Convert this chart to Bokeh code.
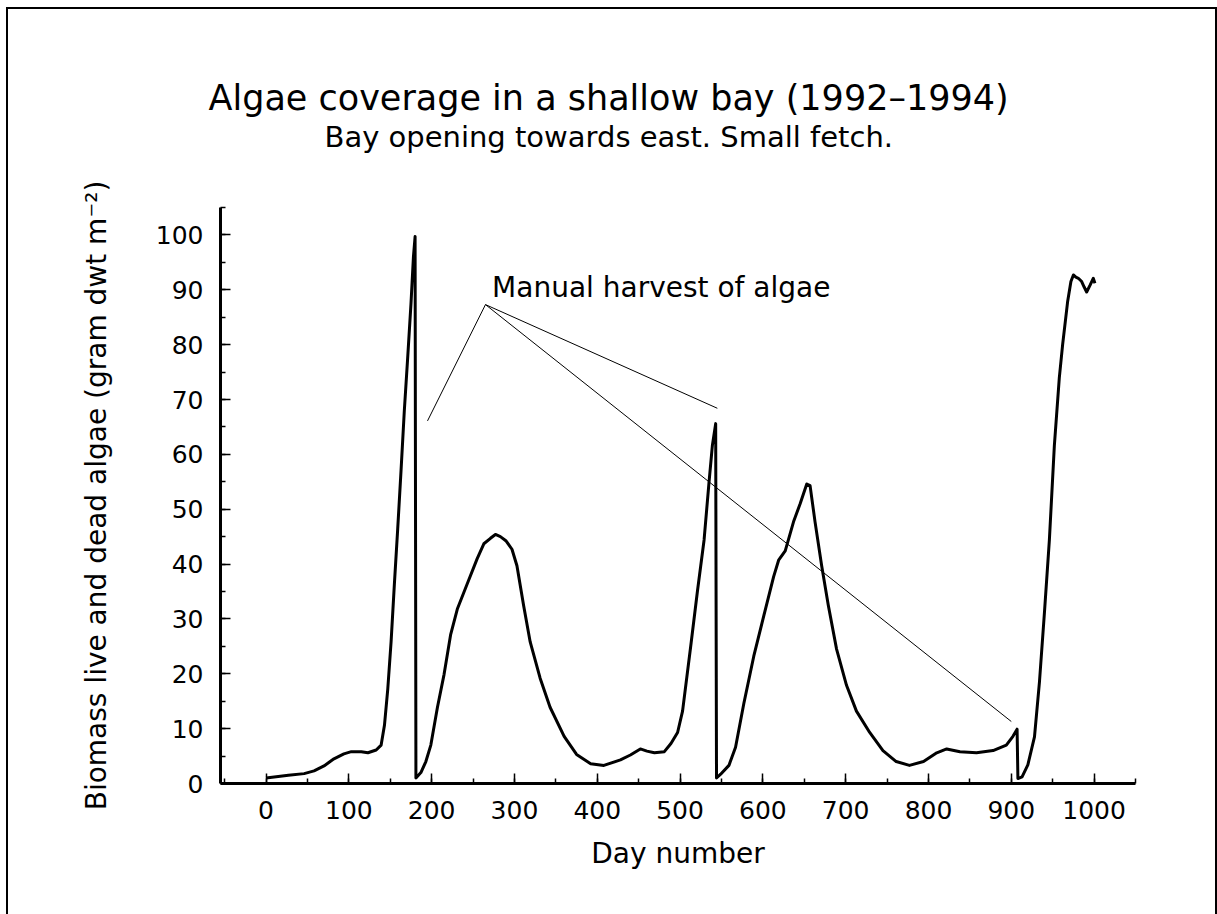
from bokeh.plotting import figure
from bokeh.models import Title, Label, SingleIntervalTicker
from bokeh.embed import file_html
from bokeh.resources import INLINE

# ---- data ----
day = [0, 27, 46, 58, 70, 82, 94, 103, 115, 123, 133, 139, 143, 147, 151, 155, 159,
       163, 167, 171, 175, 178, 180, 181, 187, 193, 199, 207, 215, 223, 231, 243, 255,
       263, 271, 277, 283, 290, 297, 303, 311, 319, 331, 343, 360, 375, 392, 408, 428,
       440, 452, 460, 469, 481, 489, 497, 503, 513, 521, 529, 535, 539, 543, 544, 549,
       559, 567, 577, 589, 601, 613, 619, 627, 637, 645, 653, 657, 663, 671, 679, 689,
       701, 713, 729, 745, 761, 777, 794, 810, 822, 838, 858, 878, 894, 902, 907, 908,
       913, 920, 928, 934, 940, 946, 952, 958, 962, 968, 972, 975, 978, 981, 985, 988,
       991, 995, 999, 1001]
biomass = [1.0, 1.5, 1.8, 2.3, 3.2, 4.5, 5.4, 5.8, 5.8, 5.6, 6.1, 7.0, 10.6, 17.2, 25.8,
           36.4, 46.4, 57.0, 68.0, 77.5, 87.4, 96.0, 99.7, 1.0, 2.0, 4.0, 7.0, 13.9, 19.9,
           27.2, 31.8, 36.4, 41.0, 43.7, 44.7, 45.4, 45.0, 44.2, 42.7, 39.7, 32.5, 25.8,
           19.2, 13.9, 8.6, 5.3, 3.6, 3.3, 4.3, 5.2, 6.3, 5.9, 5.6, 5.8, 7.3, 9.3, 13.2,
           25.2, 35.1, 44.4, 55.0, 61.6, 65.6, 1.0, 1.7, 3.3, 6.6, 14.6, 23.2, 30.5, 37.7,
           40.7, 42.4, 47.7, 51.0, 54.6, 54.3, 47.7, 39.7, 32.5, 24.5, 17.9, 13.2, 9.3,
           6.0, 4.0, 3.3, 4.0, 5.6, 6.3, 5.8, 5.6, 6.0, 7.0, 8.6, 9.9, 0.9, 1.2, 3.4, 8.5,
           18.5, 31.1, 44.4, 61.6, 74.0, 80.0, 87.8, 91.5, 92.7, 92.3, 92.1, 91.5, 90.5,
           89.6, 90.8, 92.1, 91.2]

# callout: "Manual harvest of algae"
callout_text = "Manual harvest of algae"
callout_day, callout_biomass = 265, 87.3
pointer_day = [195, 545, 900]
pointer_biomass = [66.1, 68.4, 11.3]
callout_text_day, callout_text_biomass = 273, 90.4

title_text = "Algae coverage in a shallow bay (1992\u20131994)"
subtitle_text = "Bay opening towards east. Small fetch."
x_label = "Day number"
y_label = "Biomass live and dead algae (gram dwt m\u207b\u00b2)"

FONT = "DejaVu Sans"
INK = "#000000"

p = figure(width=1217, height=914, x_range=(-55, 1050), y_range=(0, 105),
           output_backend="svg", toolbar_location=None, title=None,
           min_border_left=220, min_border_right=82, min_border_top=207,
           min_border_bottom=131)
p.grid.visible = False
p.outline_line_color = None
p.background_fill_color = "white"
p.border_fill_color = None
# page frame drawn round the whole picture (as in the reference)
p.styles = {
    "background": (
        "linear-gradient(#000,#000) 6px 7px / 2px 1000px no-repeat,"
        "linear-gradient(#000,#000) 6px 7px / 1211px 2px no-repeat,"
        "linear-gradient(#000,#000) 1215px 7px / 2px 1000px no-repeat,"
        "#ffffff"
    )
}

p.xaxis.ticker = SingleIntervalTicker(interval=100, num_minor_ticks=2)
p.yaxis.ticker = SingleIntervalTicker(interval=10, num_minor_ticks=2)
for ax in (p.xaxis, p.yaxis):
    ax.axis_line_width = 3
    ax.axis_line_color = INK
    ax.major_tick_in = 10
    ax.major_tick_out = 0
    ax.minor_tick_in = 5
    ax.minor_tick_out = 0
    ax.major_tick_line_width = 1.5
    ax.minor_tick_line_width = 1.5
    ax.major_tick_line_color = INK
    ax.minor_tick_line_color = INK
    ax.major_label_text_font = FONT
    ax.major_label_text_font_size = "25px"
    ax.major_label_text_color = INK
    ax.major_label_standoff = 17
    ax.axis_label_text_font = FONT
    ax.axis_label_text_font_size = "28px"
    ax.axis_label_text_font_style = "normal"
    ax.axis_label_text_color = INK

p.xaxis.axis_label = x_label
p.yaxis.axis_label = y_label
p.xaxis.axis_label_standoff = 15
p.yaxis.axis_label_standoff = 40

sub = Title(text=subtitle_text, align="left", offset=104, text_font=FONT,
            text_font_size="29px", text_font_style="normal", text_color=INK,
            standoff=108)
p.add_layout(sub, "above")
main = Title(text=title_text, align="left", offset=-12, text_font=FONT,
             text_font_size="35px", text_font_style="normal", text_color=INK,
             standoff=-108)
p.add_layout(main, "above")

p.line(day, biomass, line_width=3, line_color=INK, line_join="round")

p.segment(x0=[callout_day] * len(pointer_day), y0=[callout_biomass] * len(pointer_day),
          x1=pointer_day, y1=pointer_biomass, line_width=1, line_color=INK)
p.add_layout(Label(x=callout_text_day, y=callout_text_biomass, text=callout_text,
                   text_font=FONT, text_font_size="28px", text_color=INK,
                   text_baseline="alphabetic"))

open("out.html", "w").write(file_html(p, INLINE))
